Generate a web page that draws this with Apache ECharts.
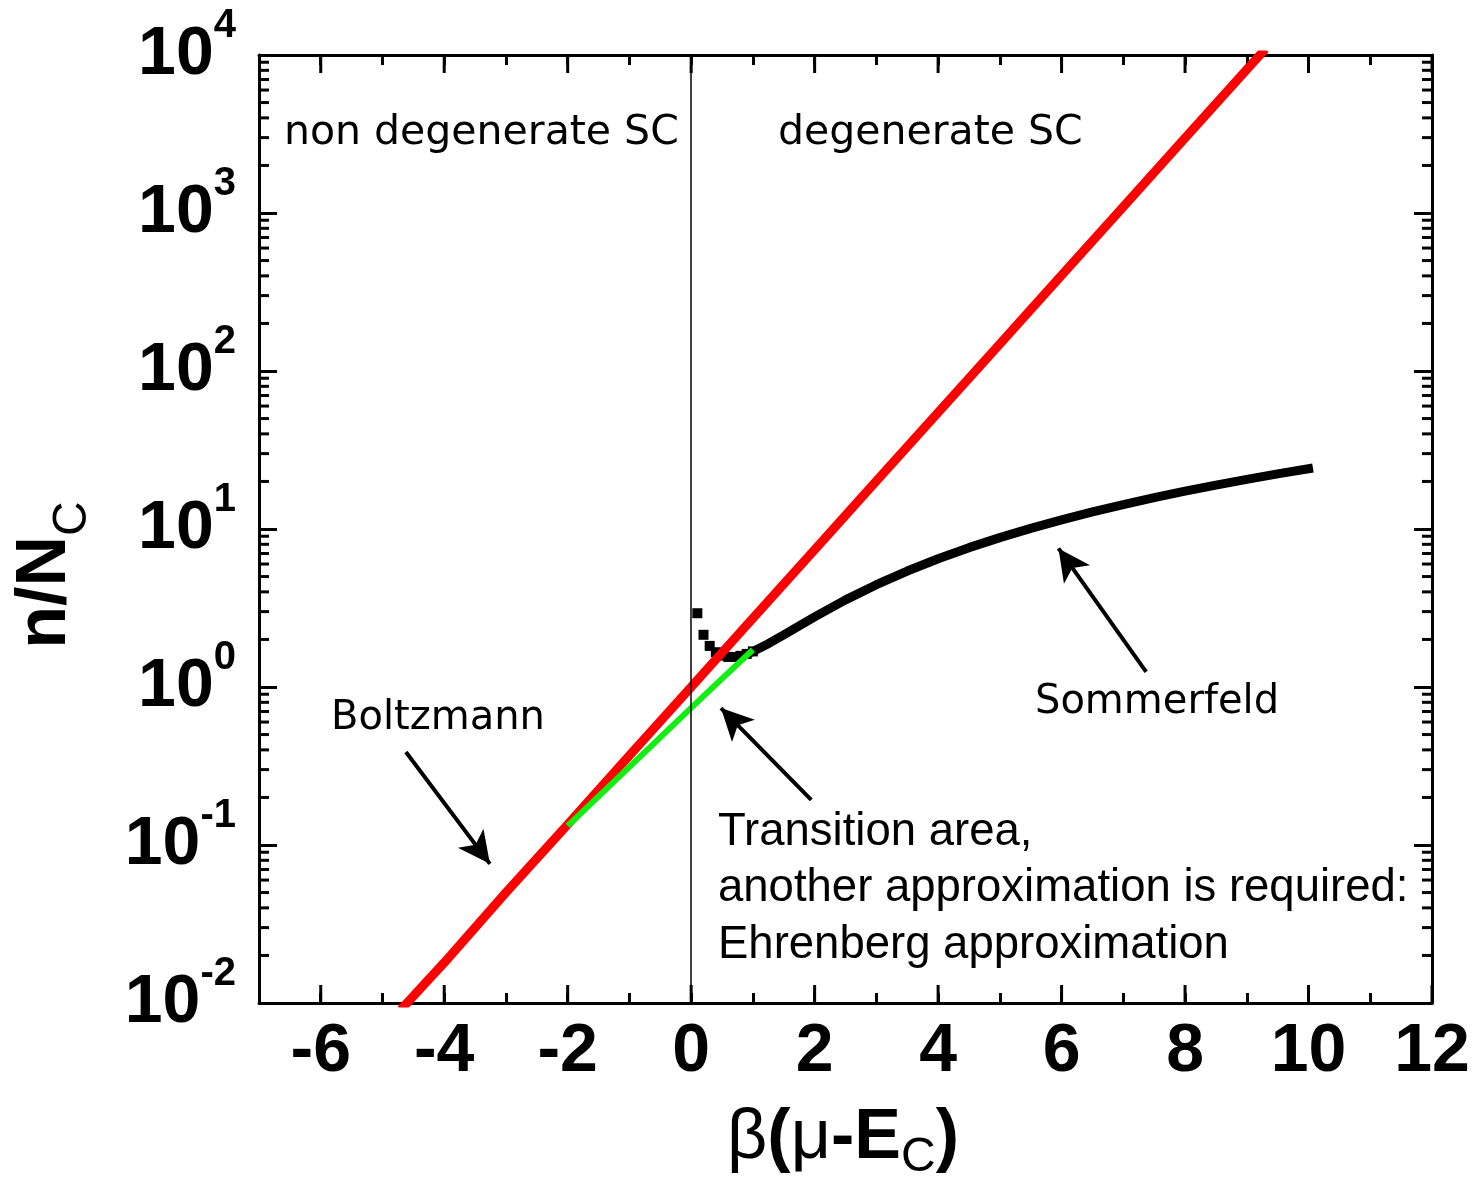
<!DOCTYPE html>
<html>
<head>
<meta charset="utf-8">
<script src="https://cdn.jsdelivr.net/npm/echarts@6/dist/echarts.min.js"></script>
<style>
html, body { margin: 0; padding: 0; background: #fff; }
#chart { width: 1480px; height: 1182px; }
</style>
</head>
<body>
<div id="chart"></div>
<script>
// Boltzmann curve (red)
var boltzX = [-4.7, -4, -3, -2, -1, 0, 1, 2, 3, 4, 5, 6, 7, 8, 9, 9.3];
var boltzY = [0.0091, 0.018, 0.050, 0.135, 0.368, 1.0, 2.72, 7.39, 20.1, 54.6, 148, 403, 1097, 2981, 8103, 10900];

// Ehrenberg approximation (green)
var ehrX = [-2, -1.5, -1, -0.5, 0, 0.5, 1];
var ehrY = [0.132, 0.203, 0.312, 0.48, 0.738, 1.13, 1.72];

// Sommerfeld (black), single squares near 0 then the thick part
var sommerSqX = [0.1, 0.2, 0.3, 0.4, 0.5, 0.6, 0.7, 0.8, 0.9, 1.0];
var sommerSqY = [2.93, 2.14, 1.82, 1.66, 1.58, 1.55, 1.55, 1.575, 1.62, 1.68];
var sommerX = [1.0, 1.25, 1.5, 1.75, 2.0, 2.5, 3.0, 3.5, 4.0, 4.5, 5.0, 5.5, 6.0, 6.5, 7.0, 7.5, 8.0, 8.5, 9.0, 9.5, 10.0];
var sommerY = [1.68, 1.88, 2.14, 2.44, 2.78, 3.56, 4.44, 5.42, 6.48, 7.62, 8.82, 10.1, 11.43, 12.83, 14.28, 15.78, 17.35, 18.95, 20.61, 22.32, 24.07];

// axis ranges
var xMin = -7, xMax = 12;
var yMin = 0.01, yMax = 10000;

function pairs(xs, ys) {
    return xs.map(function (x, i) { return [x, ys[i]]; });
}

var chart = echarts.init(document.getElementById('chart'));

var axisLine = { onZero: false, lineStyle: { color: '#000', width: 3 } };
var tickStyle = { color: '#000', width: 3 };

var option = {
    animation: false,
    grid: { left: 259, right: 48, top: 55, bottom: 179 },
    xAxis: [
        {
            type: 'value', min: xMin, max: xMax, interval: 1,
            axisLine: axisLine,
            axisTick: { inside: true, length: 10, lineStyle: tickStyle },
            splitLine: { show: false },
            axisLabel: {
                margin: 15, color: '#000',
                fontFamily: 'Liberation Sans', fontWeight: 'bold', fontSize: 68,
                formatter: function (v) {
                    var r = Math.round(v);
                    return r % 2 === 0 ? String(r) : '';
                }
            }
        },
        {
            type: 'value', position: 'top', min: xMin, max: xMax, interval: 1,
            axisLine: axisLine,
            axisTick: { inside: true, length: 10, lineStyle: tickStyle },
            splitLine: { show: false },
            axisLabel: { show: false }
        }
    ],
    yAxis: [
        {
            type: 'log', logBase: 10, min: yMin, max: yMax, interval: 1,
            axisLine: axisLine,
            axisTick: { inside: true, length: 18, lineStyle: tickStyle },
            splitLine: { show: false },
            axisLabel: {
                margin: 23,
                formatter: function (v) {
                    var e = Math.round(Math.log10(v));
                    return '{b|10}{s|' + e + '}';
                },
                rich: {
                    b: { fontFamily: 'Liberation Sans', fontWeight: 'bold', fontSize: 68, color: '#000' },
                    s: { fontFamily: 'Liberation Sans', fontWeight: 'bold', fontSize: 40, color: '#000', padding: [0, 0, 58, 0] }
                }
            }
        },
        {
            type: 'log', logBase: 10, min: yMin, max: yMax, interval: 1, position: 'right',
            axisLine: axisLine,
            axisTick: { inside: true, length: 18, lineStyle: tickStyle },
            splitLine: { show: false },
            axisLabel: { show: false }
        }
    ],
    series: [
        {
            name: 'Sommerfeld points',
            type: 'scatter',
            symbol: 'rect',
            symbolSize: 10,
            itemStyle: { color: '#000', opacity: 1 },
            data: pairs(sommerSqX, sommerSqY),
            markLine: {
                silent: true, symbol: 'none', label: { show: false },
                lineStyle: { color: '#000', width: 1.5, type: 'solid' },
                data: [{ xAxis: 0 }]
            }
        },
        {
            name: 'Sommerfeld',
            type: 'line',
            showSymbol: false,
            lineStyle: { color: '#000', width: 9, cap: 'square' },
            data: pairs(sommerX, sommerY)
        },
        {
            name: 'Boltzmann',
            type: 'line',
            showSymbol: false,
            clip: true,
            lineStyle: { color: '#ff0000', width: 9 },
            data: pairs(boltzX, boltzY)
        },
        {
            name: 'Ehrenberg',
            type: 'line',
            showSymbol: false,
            lineStyle: { color: '#11ee11', width: 6 },
            data: pairs(ehrX, ehrY),
            markLine: {
                silent: true,
                symbol: ['none', 'arrow'],
                symbolSize: [24, 32],
                label: { show: false },
                lineStyle: { color: '#000', width: 4, type: 'solid' },
                data: [
                    [{ coord: [-4.62, 0.388] }, { coord: [-3.26, 0.076] }],
                    [{ coord: [7.37, 1.245] }, { coord: [5.95, 7.54] }],
                    [{ coord: [1.945, 0.193] }, { coord: [0.483, 0.736] }]
                ]
            }
        }
    ]
};
chart.setOption(option);

// extra ticks: long ticks on even x values, log minor ticks on y
function buildGraphics() {
    var gLeft = chart.convertToPixel({ xAxisIndex: 0 }, xMin);
    var gRight = chart.convertToPixel({ xAxisIndex: 0 }, xMax);
    var gTop = chart.convertToPixel({ yAxisIndex: 0 }, yMax);
    var gBottom = chart.convertToPixel({ yAxisIndex: 0 }, yMin);
    var list = [];

    function tick(x1, y1, x2, y2) {
        list.push({
            type: 'line', silent: true, z: 10,
            shape: { x1: x1, y1: y1, x2: x2, y2: y2 },
            style: { stroke: '#000', lineWidth: 3 }
        });
    }
    for (var v = -6; v <= 12; v += 2) {
        var px = chart.convertToPixel({ xAxisIndex: 0 }, v);
        tick(px, gBottom, px, gBottom - 18);
        tick(px, gTop, px, gTop + 18);
    }
    for (var k = -2; k < 4; k++) {
        for (var m = 2; m <= 9; m++) {
            var py = chart.convertToPixel({ yAxisIndex: 0 }, m * Math.pow(10, k));
            tick(gLeft, py, gLeft + 10, py);
            tick(gRight - 10, py, gRight, py);
        }
    }

    function label(text, x, y, font) {
        list.push({
            type: 'text', x: x, y: y, silent: true, z: 10,
            style: { text: text, font: font, fill: '#000', align: 'left', verticalAlign: 'middle' }
        });
    }
    var geoFont = '40px "DejaVu Sans"';
    var headFont = '41px "DejaVu Sans"';
    var noteFont = '45.5px "Liberation Sans"';
    label('non degenerate SC', 284, 133, headFont);
    label('degenerate SC', 778, 133, headFont);
    label('Boltzmann', 331, 719, geoFont);
    label('Sommerfeld', 1035, 703, geoFont);
    label('Transition area,', 718, 832, noteFont);
    label('another approximation is required:', 718, 888, noteFont);
    label('Ehrenberg approximation', 718, 945, noteFont);

    // axis titles
    list.push({
        type: 'text', x: 46, y: 575, rotation: Math.PI / 2, silent: true,
        style: {
            text: '{a|n/N}{s|C}', align: 'center', verticalAlign: 'middle',
            rich: {
                a: { fontFamily: 'Liberation Sans', fontWeight: 'bold', fontSize: 70, fill: '#000' },
                s: { fontFamily: 'Liberation Sans', fontSize: 48, fill: '#000', padding: [54, 0, 0, 0] }
            }
        }
    });
    list.push({
        type: 'text', x: 843, y: 1139, silent: true,
        style: {
            text: '{g|β}{a|(}{g|μ}{a|-E}{s|C}{a|)}', align: 'center', verticalAlign: 'middle',
            rich: {
                a: { fontFamily: 'Liberation Sans', fontWeight: 'bold', fontSize: 70, fill: '#000' },
                g: { fontFamily: 'Liberation Sans', fontSize: 70, fill: '#000' },
                s: { fontFamily: 'Liberation Sans', fontSize: 48, fill: '#000', padding: [37, 0, 0, 0] }
            }
        }
    });
    return list;
}

chart.setOption({ graphic: buildGraphics() });
</script>
</body>
</html>
